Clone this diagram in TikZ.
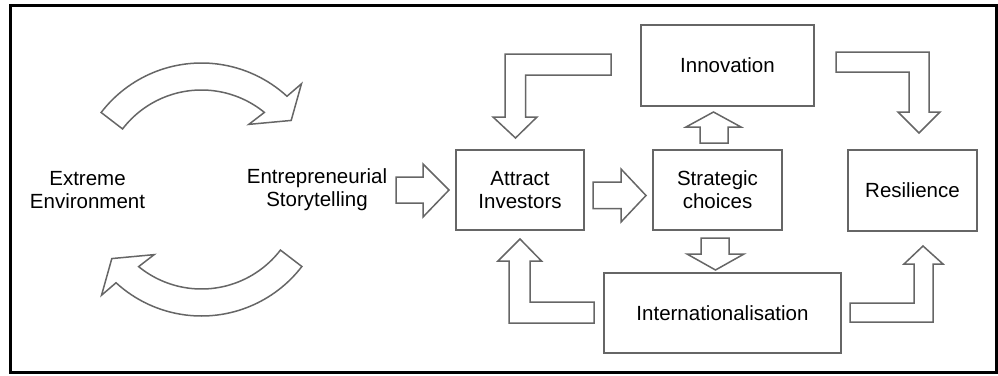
\documentclass[tikz,border=0pt]{standalone}
\usepackage{fontspec}
\setmainfont{Liberation Sans}
\definecolor{edge}{gray}{0.40}
\begin{document}
\begin{tikzpicture}[x=1pt,y=-1pt,
  box/.style={draw=edge,line width=1.6pt,fill=white,inner sep=0pt,align=center,font=\fontsize{20.5}{23}\selectfont},
  lbl/.style={inner sep=0pt,align=center,font=\fontsize{20.5}{23}\selectfont},
  barrow/.style={draw=edge,line width=1.5pt,fill=white,line join=miter}]
\useasboundingbox (0,0) rectangle (998,375);
\draw[line width=3pt] (10.5,5.5) rectangle (996.5,372);
% nodes
\node[box,minimum width=173pt,minimum height=81pt] (innov) at (727.5,65.5) {Innovation};
\node[box,minimum width=128pt,minimum height=80pt] (attract) at (520,190) {Attract\\Investors};
\node[box,minimum width=129pt,minimum height=80pt] (strat) at (717.5,190) {Strategic\\choices};
\node[box,minimum width=237pt,minimum height=80pt] (intl) at (722.5,313) {Internationalisation};
\node[box,minimum width=129pt,minimum height=81pt] (resil) at (912.5,190.5) {Resilience};
\node[lbl] (extreme) at (87.5,190) {Extreme\\Environment};
\node[lbl] (story) at (317,190) {Entrepreneurial\\Storytelling};
% straight block arrows
\draw[barrow] (396,177) -- (423,177) -- (423,164) -- (449,190) -- (423,217) -- (423,203) -- (396,203) -- cycle;
\draw[barrow] (593,182) -- (621,182) -- (621,169) -- (646,195.5) -- (621,222) -- (621,208.5) -- (593,208.5) -- cycle;
\draw[barrow] (700,143) -- (700,127) -- (686,127) -- (713.5,112) -- (741,127) -- (728,127) -- (728,143) -- cycle;
\draw[barrow] (701,238) -- (729,238) -- (729,254) -- (744,254) -- (715.5,270) -- (687,254) -- (701,254) -- cycle;
% L-shaped block arrows
\draw[barrow] (611,54) -- (505,54) -- (505,117) -- (493,117) -- (515.5,138) -- (537,117) -- (525.5,117) -- (525.5,75) -- (611,75) -- cycle;
\draw[barrow] (594,323) -- (509,323) -- (509,261) -- (498,261) -- (520,239) -- (541.5,261) -- (530,261) -- (530,302) -- (594,302) -- cycle;
\draw[barrow] (836,52) -- (929,52) -- (929,112) -- (940,112) -- (919,133) -- (898,112) -- (909,112) -- (909,72) -- (836,72) -- cycle;
\draw[barrow] (850,322) -- (933,322) -- (933,264) -- (943,264) -- (923,246) -- (904,264) -- (914,264) -- (914,303) -- (850,303) -- cycle;
% curved arrows
\coordinate (O) at (201.5,189.5);
\begin{scope}[shift={(O)},x=1pt,y=1pt]
\draw[barrow] (142.5:126.5) arc[start angle=142.5,end angle=47.5,radius=126.5]
  -- (46.6:145.5) -- (37.6:113.2) -- (54:80.5) -- (50.8:99.5)
  arc[start angle=50.8,end angle=142.5,radius=99.5] -- cycle;
\draw[barrow,rotate=180] (142.5:126.5) arc[start angle=142.5,end angle=47.5,radius=126.5]
  -- (46.6:145.5) -- (37.6:113.2) -- (54:80.5) -- (50.8:99.5)
  arc[start angle=50.8,end angle=142.5,radius=99.5] -- cycle;
\end{scope}
\end{tikzpicture}
\end{document}
